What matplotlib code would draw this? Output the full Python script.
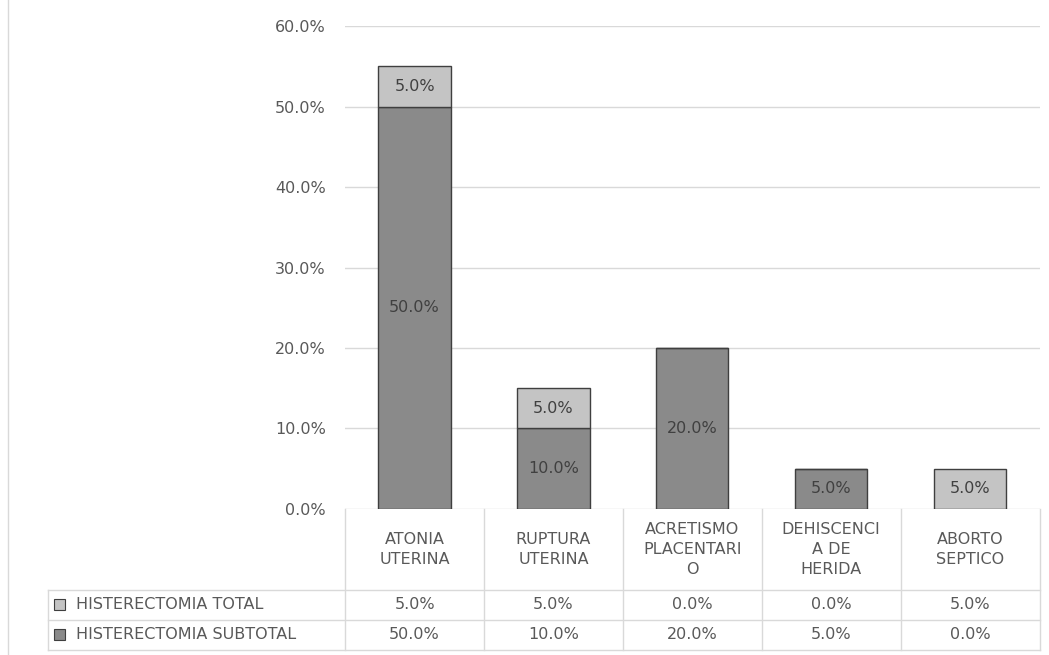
import matplotlib.pyplot as plt
from matplotlib.patches import Rectangle
from matplotlib.transforms import blended_transform_factory

categorias = ['ATONIA\nUTERINA', 'RUPTURA\nUTERINA', 'ACRETISMO\nPLACENTARI\nO',
              'DEHISCENCI\nA DE\nHERIDA', 'ABORTO\nSEPTICO']
subtotal = [50.0, 10.0, 20.0, 5.0, 0.0]
total = [5.0, 5.0, 0.0, 0.0, 5.0]
series = ['HISTERECTOMIA TOTAL', 'HISTERECTOMIA SUBTOTAL']

c_sub = '#8a8a8a'
c_tot = '#c4c4c4'
c_edge = '#3f3f3f'
c_txt = '#595959'
c_grid = '#d9d9d9'
fs = 11.5

plt.rcParams['font.family'] = ['DejaVu Sans']

fig = plt.figure(figsize=(10.49, 6.55), dpi=100)
ax = fig.add_axes([0.329, 0.223, 0.662, 0.737])

x = range(len(categorias))
ax.bar(x, subtotal, width=0.52, color=c_sub, edgecolor=c_edge, linewidth=1, zorder=3)
ax.bar(x, total, width=0.52, bottom=subtotal, color=c_tot, edgecolor=c_edge, linewidth=1, zorder=3)

for i in x:
    if subtotal[i] > 0:
        ax.text(i, subtotal[i] / 2, '%.1f%%' % subtotal[i], ha='center', va='center',
                fontsize=fs, color='#404040', zorder=4)
    if total[i] > 0:
        ax.text(i, subtotal[i] + total[i] / 2, '%.1f%%' % total[i], ha='center', va='center',
                fontsize=fs, color='#404040', zorder=4)

ax.set_xlim(-0.5, len(categorias) - 0.5)
ax.set_ylim(0, 60)
ax.set_yticks(range(0, 61, 10))
ax.set_yticklabels(['%.1f%%' % v for v in range(0, 61, 10)], fontsize=fs, color=c_txt)
ax.tick_params(axis='y', length=0, pad=14)
ax.set_xticks([])
ax.grid(axis='y', color=c_grid, linewidth=1, zorder=0)
for s in ax.spines.values():
    s.set_visible(False)

# data table under the chart
tr = blended_transform_factory(ax.transData, ax.transAxes)
rh = 30 / 483.0
y_cat = -81 / 483.0
y_r1 = y_cat - rh
y_r2 = y_r1 - rh
lc = '#d9d9d9'
xl = -0.5 - 297 / 139.0  # left edge of label column in data units

for k in range(len(categorias) + 1):
    ax.plot([k - 0.5, k - 0.5], [0, y_r2], color=lc, lw=1, transform=tr, clip_on=False)
ax.plot([xl, xl], [y_cat, y_r2], color=lc, lw=1, transform=tr, clip_on=False)
for yy in [y_cat, y_r1, y_r2]:
    ax.plot([xl, len(categorias) - 0.5], [yy, yy], color=lc, lw=1, transform=tr, clip_on=False)

for i, c in enumerate(categorias):
    ax.text(i, y_cat / 2, c, ha='center', va='center', fontsize=fs, color=c_txt,
            linespacing=1.4, transform=tr)
    ax.text(i, y_cat - rh / 2, '%.1f%%' % total[i], ha='center', va='center',
            fontsize=fs, color=c_txt, transform=tr)
    ax.text(i, y_r1 - rh / 2, '%.1f%%' % subtotal[i], ha='center', va='center',
            fontsize=fs, color=c_txt, transform=tr)

for j, (name, col) in enumerate(zip(series, [c_tot, c_sub])):
    yc = y_cat - rh / 2 - j * rh
    ax.add_patch(Rectangle((xl + 0.043, yc - 0.0115), 0.08, 0.023, facecolor=col,
                           edgecolor=c_edge, lw=0.8, transform=tr, clip_on=False))
    ax.text(xl + 0.2, yc, name, ha='left', va='center', fontsize=fs,
            color=c_txt, transform=tr)

fig.add_artist(plt.Line2D([0.008, 0.008], [0, 1], color='#d9d9d9', lw=1))

fig.savefig('out.png', dpi=100)
